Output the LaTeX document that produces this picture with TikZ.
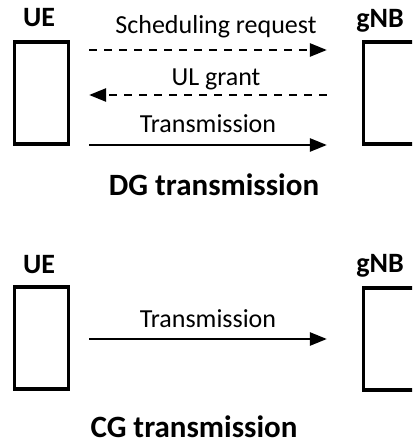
\documentclass[tikz,border=0pt]{standalone}
\usepackage{fontspec}
\setmainfont{Carlito}
\usetikzlibrary{arrows.meta}

\begin{document}
\begin{tikzpicture}[x=1pt,y=-1pt,
    station/.style={draw,line width=3.2pt,minimum width=54pt,minimum height=102pt,inner sep=0pt},
    entity/.style={anchor=base,font=\bfseries\fontsize{28}{32}\selectfont},
    caption/.style={anchor=base,font=\bfseries\fontsize{31}{36}\selectfont},
    msglabel/.style={anchor=base,font=\fontsize{26}{30}\selectfont},
    msg/.style={line width=2.5pt,shorten <=19pt,shorten >=35pt,
      -{Triangle[length=17pt,width=13pt]}},
    back/.style={line width=2.5pt,shorten <=35pt,shorten >=19pt,
      -{Triangle[length=17pt,width=13pt]}},
    signalling/.style={dash pattern=on 8pt off 7pt}]
  \clip (0,0) rectangle (412,446);

  % DG transmission
  \draw
    (41.5,93) node[station] (ue1) {}
    (390.5,93) node[station] (gnb1) {}
    (39,27) node[entity] (ue1lbl) {UE}
    (380,28) node[entity] (gnb1lbl) {gNB};
  \draw[msg,signalling] (ue1.east |- 0,50) -- (gnb1.west |- 0,50)
    node[msglabel,pos=0.5,yshift=16pt] (req) {Scheduling request};
  \draw[back,signalling] (gnb1.west |- 0,95) -- (ue1.east |- 0,95)
    node[msglabel,pos=0.5,yshift=9pt] (grant) {UL grant};
  \draw[msg] (ue1.east |- 0,145) -- (gnb1.west |- 0,145)
    node[msglabel,pos=0.5,xshift=-8pt,yshift=12pt] (tx1) {Transmission};
  \node[caption] (dg) at (214,195) {DG transmission};

  % CG transmission
  \draw
    (41.5,338) node[station] (ue2) {}
    (390.5,339) node[station] (gnb2) {}
    (39,273) node[entity] (ue2lbl) {UE}
    (380,272) node[entity] (gnb2lbl) {gNB};
  \draw[msg] (ue2.east |- 0,339) -- (gnb2.west |- 0,339)
    node[msglabel,pos=0.5,xshift=-8pt,yshift=12pt] (tx2) {Transmission};
  \node[caption] (cg) at (194,437) {CG transmission};
\end{tikzpicture}
\end{document}
